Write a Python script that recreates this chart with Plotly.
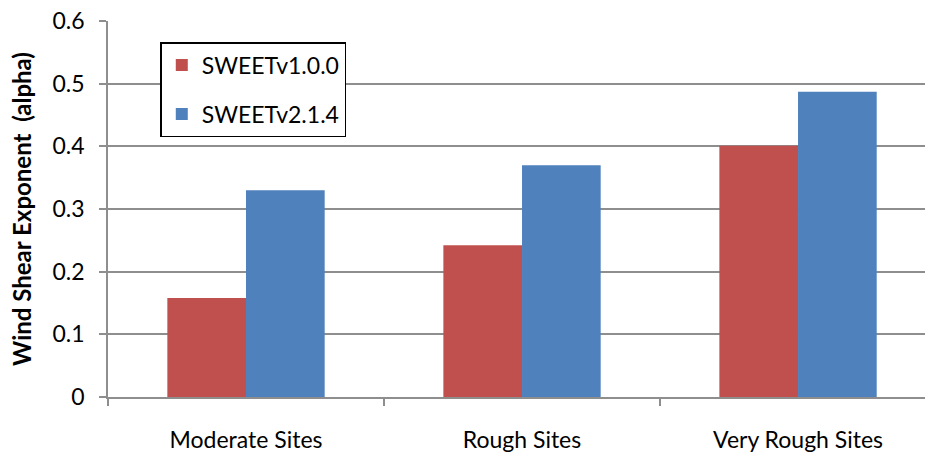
import plotly.graph_objects as go

categories = ["Moderate Sites", "Rough Sites", "Very Rough Sites"]
sweet_v100 = [0.158, 0.242, 0.401]
sweet_v214 = [0.330, 0.370, 0.487]
y_ticks = [0, 0.1, 0.2, 0.3, 0.4, 0.5, 0.6]
y_tick_labels = ["0", "0.1", "0.2", "0.3", "0.4", "0.5", "0.6"]

RED = "#c0504d"
BLUE = "#4f81bd"
GRID = "#8e8e8e"
FONT = "Lato, 'Open Sans', sans-serif"

fig = go.Figure()
fig.add_trace(go.Bar(name="SWEETv1.0.0", x=categories, y=sweet_v100,
                     marker=dict(color=RED, line=dict(width=0)),
                     legendgroup="a"))
fig.add_trace(go.Bar(name="SWEETv2.1.4", x=categories, y=sweet_v214,
                     marker=dict(color=BLUE, line=dict(width=0)),
                     legendgroup="b"))

fig.update_layout(
    width=925, height=453,
    margin=dict(l=108, r=0, t=21, b=56),
    paper_bgcolor="white", plot_bgcolor="white",
    barmode="group", bargap=0.43, bargroupgap=0,
    font=dict(family=FONT, color="black"),
    showlegend=True,
    legend=dict(
        x=0.064, y=0.944, xanchor="left", yanchor="top",
        bgcolor="white", bordercolor="black", borderwidth=1.5,
        font=dict(size=23, family=FONT),
        traceorder="grouped", tracegroupgap=16,
        itemwidth=30,
    ),
    xaxis=dict(
        type="category", range=[-0.5, 2.46],
        showline=True, linecolor=GRID, linewidth=1.5,
        ticks="outside", tickson="boundaries", ticklen=7, tickcolor=GRID, tickwidth=1.5,
        tickfont=dict(size=23, family=FONT),
        ticklabelstandoff=22,
        showgrid=False,
    ),
    yaxis=dict(
        range=[0, 0.6], tickvals=y_ticks, ticktext=y_tick_labels,
        showline=True, linecolor=GRID, linewidth=1.5,
        ticks="outside", ticklen=7, tickcolor=GRID, tickwidth=1.5,
        showgrid=True, gridcolor=GRID, gridwidth=1.5,
        tickfont=dict(size=23, family=FONT),
        ticklabelstandoff=10,
        title=dict(text="<b>Wind Shear Exponent  (alpha)</b>",
                   font=dict(size=24, family=FONT), standoff=14),
        zeroline=False,
    ),
)

fig.write_html("out.html")
